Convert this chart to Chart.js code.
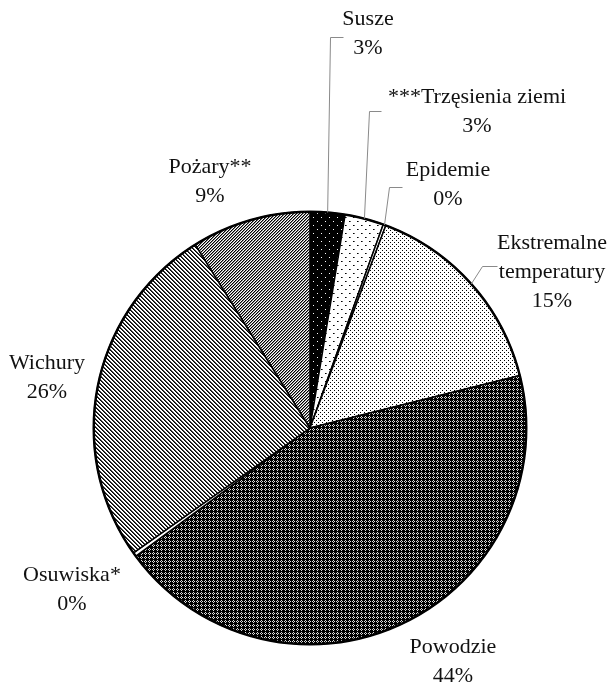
<!DOCTYPE html>
<html>
<head>
<meta charset="utf-8">
<script src="https://cdn.jsdelivr.net/npm/chart.js@4"></script>
<style>
  html, body { margin: 0; padding: 0; background: #fff; }
  #wrap { width: 613px; height: 684px; }
</style>
</head>
<body>
<div id="wrap"><canvas id="pieChart" width="613" height="684"></canvas></div>
<script>
// data (share of events, %)
const categories = ['Susze', '***Trzęsienia ziemi', 'Epidemie', ['Ekstremalne', 'temperatury'],
    'Powodzie', 'Osuwiska*', 'Wichury', 'Pożary**'];
const shares = [2.6, 2.9, 0.2, 15.4, 43.8, 0.3, 25.9, 8.9];

// label placement, offsets from the pie centre (first text line centre)
const labelPos = [
    { dx: 58, dy: -409, knee: [20, -391], end: [33, -391] },
    { dx: 167, dy: -331, knee: [59, -317], end: [71, -317] },
    { dx: 138, dy: -258, knee: [79, -241], end: [92, -241] },
    { dx: 242, dy: -185, knee: [172, -162], end: [187, -162] },
    { dx: 143, dy: 219 },
    { dx: -238, dy: 147 },
    { dx: -263, dy: -65 },
    { dx: -100, dy: -261 }
];

const canvas = document.getElementById('pieChart');
const ctx = canvas.getContext('2d');

function tile(size, bg, dots) {
    const c = document.createElement('canvas');
    c.width = c.height = size;
    const g = c.getContext('2d');
    g.fillStyle = bg;
    g.fillRect(0, 0, size, size);
    dots.forEach(([x, y, col]) => {
        g.fillStyle = col;
        g.fillRect(x, y, 1, 1);
    });
    return ctx.createPattern(c, 'repeat');
}

const fills = [
    tile(8, '#000', [[1, 1, '#fff'], [5, 5, '#fff']]),
    tile(8, '#fff', [[1, 1, '#000'], [5, 5, '#000'], [2, 1, '#666'], [6, 5, '#666']]),
    '#fff',
    tile(4, '#fff', [[0, 0, '#000'], [2, 2, '#000']]),
    tile(4, '#000', [[1, 0, '#ddd'], [0, 1, '#ddd'], [2, 1, '#ddd'], [1, 2, '#ddd']]),
    '#fff',
    tile(4, '#fff', [[0, 0, '#000'], [1, 1, '#000'], [2, 2, '#000'], [3, 3, '#000'],
        [1, 0, '#444'], [2, 1, '#444'], [3, 2, '#444'], [0, 3, '#444']]),
    tile(3, '#fff', [[2, 0, '#000'], [1, 1, '#000'], [0, 2, '#000'],
        [0, 0, '#888'], [2, 1, '#888'], [1, 2, '#888']])
];

const labelPlugin = {
    id: 'pieLabels',
    afterDraw(chart) {
        const c = chart.ctx;
        const arcs = chart.getDatasetMeta(0).data;
        c.save();
        // heavier outline round the whole pie
        const first = arcs[0];
        c.strokeStyle = '#000';
        c.lineWidth = 2.5;
        c.beginPath();
        c.arc(first.x, first.y, first.outerRadius, 0, Math.PI * 2);
        c.stroke();

        c.font = '22px "Liberation Serif", "Times New Roman", serif';
        c.fillStyle = '#111';
        c.textAlign = 'center';
        c.textBaseline = 'middle';
        arcs.forEach((arc, i) => {
            const { x, y, startAngle, endAngle, outerRadius } = arc.getProps(['x', 'y', 'startAngle', 'endAngle', 'outerRadius'], true);
            const pos = labelPos[i];
            const name = categories[i];
            const lines = (Array.isArray(name) ? name : [name]).concat(Math.round(shares[i]) + '%');
            lines.forEach((t, k) => c.fillText(t, x + pos.dx, y + pos.dy + k * 29));
            if (pos.knee) {
                const mid = (startAngle + endAngle) / 2;
                c.strokeStyle = '#8a8a8a';
                c.lineWidth = 1;
                c.beginPath();
                c.moveTo(x + outerRadius * Math.cos(mid), y + outerRadius * Math.sin(mid));
                c.lineTo(x + pos.knee[0] + 0.5, y + pos.knee[1] + 0.5);
                c.lineTo(x + pos.end[0] + 0.5, y + pos.end[1] + 0.5);
                c.stroke();
            }
        });
        c.restore();
    }
};

new Chart(ctx, {
    type: 'pie',
    data: {
        labels: categories,
        datasets: [{
            data: shares,
            backgroundColor: fills,
            borderColor: '#000',
            borderWidth: 1.5
        }]
    },
    options: {
        responsive: false,
        animation: false,
        layout: { padding: { left: 93, right: 86, top: 211, bottom: 39 } },
        plugins: {
            legend: { display: false },
            tooltip: { enabled: false }
        }
    },
    plugins: [labelPlugin]
});
</script>
</body>
</html>
